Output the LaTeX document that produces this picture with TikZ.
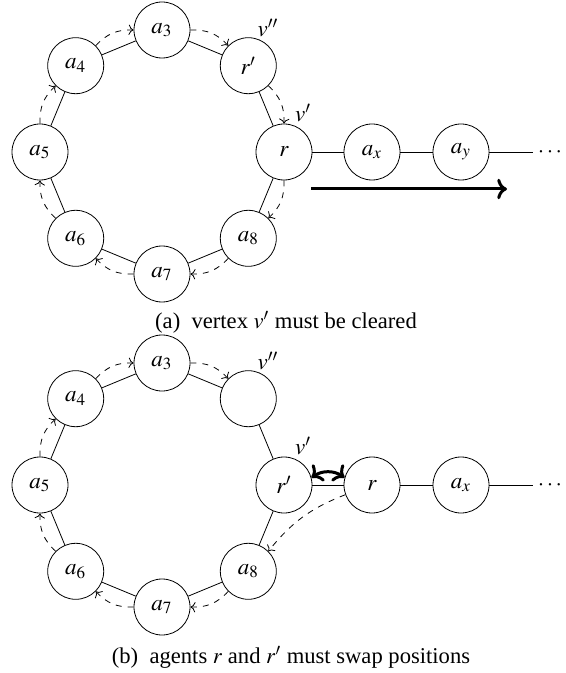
\documentclass[tikz,border=0pt]{standalone}
\usepackage{mathptmx}
\usepackage[no-math]{fontspec}
\setmainfont{Liberation Serif}
\usetikzlibrary{arrows.meta}
\begin{document}
\begin{tikzpicture}[x=0.5pt,y=-0.5pt,
  agent/.style={draw,circle,minimum size=28pt,inner sep=0pt,line width=0.4pt,font=\fontsize{11.5}{14}\selectfont},
  ringedge/.style={line width=0.4pt},
  flow/.style={dashed,line width=0.4pt,->},
  thickarrow/.style={line width=1.5pt,->},
  thickboth/.style={line width=1.5pt,<->},
  lab/.style={inner sep=0pt,font=\fontsize{11.5}{14}\selectfont},
  captext/.style={inner sep=0pt,font=\fontsize{11.3}{14}\selectfont}]
\useasboundingbox (0,0) rectangle (566,673);
% ---------- (a) ----------
\node[agent] (t3) at (162,30) {$a_3$};
\node[agent] (trp) at (248.3,65.7) {$r'$};
\node[agent] (tr) at (284,152) {$r$};
\node[agent] (t8) at (248.3,238.3) {$a_8$};
\node[agent] (t7) at (162,274) {$a_7$};
\node[agent] (t6) at (75.7,238.3) {$a_6$};
\node[agent] (t5) at (40,152) {$a_5$};
\node[agent] (t4) at (75.7,65.7) {$a_4$};
\node[agent] (tax) at (372,152) {$a_x$};
\node[agent] (tay) at (461,152) {$a_y$};
\coordinate (tend) at (533,152);
\node[lab] (tdots) at (550,152) {$\cdots$};
\node[lab] (tlv2) at (268,28) {$v''$};
\node[lab] (tlv1) at (303,113) {$v'$};
\draw[ringedge] (t3) -- (trp) -- (tr) -- (t8) -- (t7) -- (t6) -- (t5) -- (t4) -- (t3);
\draw[ringedge] (tr) -- (tax) -- (tay) -- (tend);
\draw[flow] (t3.0) to[bend left=25] (trp.135);
\draw[flow] (trp.-45) to[bend left=25] (tr.90);
\draw[flow] (tr.-90) to[bend left=25] (t8.45);
\draw[flow] (t8.-135) to[bend left=25] (t7.0);
\draw[flow] (t7.180) to[bend left=25] (t6.-45);
\draw[flow] (t6.135) to[bend left=25] (t5.-90);
\draw[flow] (t5.90) to[bend left=25] (t4.-135);
\draw[flow] (t4.45) to[bend left=25] (t3.180);
\coordinate (ta1) at (311,189);
\coordinate (ta2) at (507,189);
\draw[thickarrow] (ta1) -- (ta2);
\node[captext] (capa) at (286,322) {(a)\ \ vertex $v'$ must be cleared};
% ---------- (b) ----------
\node[agent] (b3) at (162,363) {$a_3$};
\node[agent] (bv) at (248.3,398.7) {};
\node[agent] (brp) at (284,485) {$r'$};
\node[agent] (b8) at (248.3,571.3) {$a_8$};
\node[agent] (b7) at (162,607) {$a_7$};
\node[agent] (b6) at (75.7,571.3) {$a_6$};
\node[agent] (b5) at (40,485) {$a_5$};
\node[agent] (b4) at (75.7,398.7) {$a_4$};
\node[agent] (br) at (372,485) {$r$};
\node[agent] (bax) at (461,485) {$a_x$};
\coordinate (bendpt) at (533,485);
\node[lab] (bdots) at (550,485) {$\cdots$};
\node[lab] (blv2) at (268,361) {$v''$};
\node[lab] (blv1) at (303,446) {$v'$};
\draw[ringedge] (b3) -- (bv) -- (brp) -- (b8) -- (b7) -- (b6) -- (b5) -- (b4) -- (b3);
\draw[ringedge] (brp) -- (br) -- (bax) -- (bendpt);
\draw[flow] (b3.0) to[bend left=25] (bv.135);
\draw[flow] (br.200) to[bend right=15] (b8.45);
\draw[flow] (b8.-135) to[bend left=25] (b7.0);
\draw[flow] (b7.180) to[bend left=25] (b6.-45);
\draw[flow] (b6.135) to[bend left=25] (b5.-90);
\draw[flow] (b5.90) to[bend left=25] (b4.-135);
\draw[flow] (b4.45) to[bend left=25] (b3.180);
\draw[thickboth] (brp.15) to[bend left=35] (br.165);
\node[captext] (capb) at (291,657) {(b)\ \ agents $r$ and $r'$ must swap positions};
\end{tikzpicture}
\end{document}
